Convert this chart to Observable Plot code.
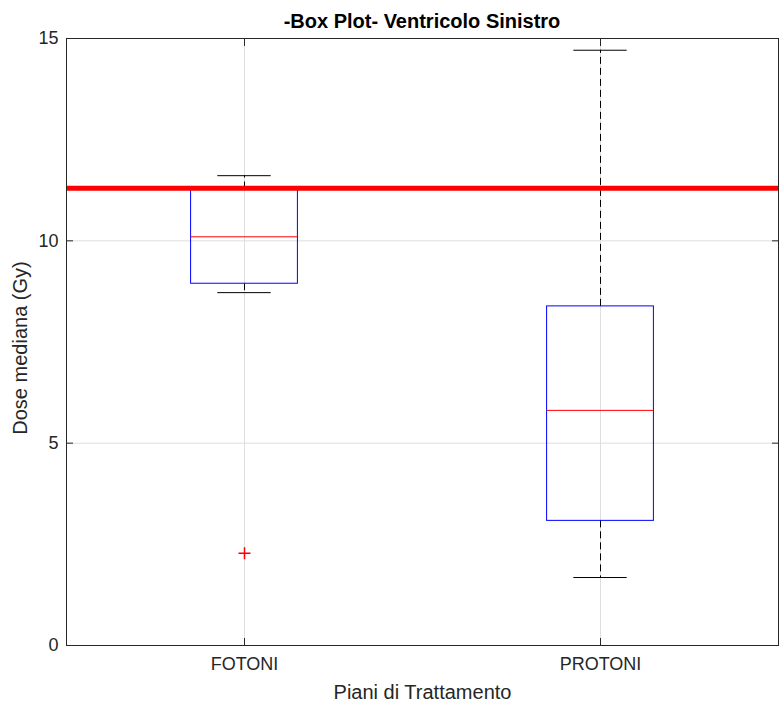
<!DOCTYPE html>
<html><head><meta charset="utf-8">
<script src="https://cdn.jsdelivr.net/npm/d3@7"></script>
<script src="https://cdn.jsdelivr.net/npm/@observablehq/plot@0.6"></script>
<style>
body{margin:0;background:#fff;}
#wrap{position:relative;width:782px;height:706px;font-family:"Liberation Sans",Arial,sans-serif;}
#title{position:absolute;left:66px;width:712px;top:9px;text-align:center;font-weight:bold;font-size:20px;color:#000;line-height:24px;}
#chart{position:absolute;left:0;top:0;}
</style></head><body>
<div id="wrap"><div id="chart"></div><div id="title">-Box Plot- Ventricolo Sinistro</div></div>
<script>
const categories = ["FOTONI", "PROTONI"];
const whiskerLow = [8.72, 1.68];
const q1 = [8.94, 3.08];
const median = [10.10, 5.81];
const q3 = [11.28, 8.38];
const whiskerHigh = [11.61, 14.71];
const outlierGroups = ["FOTONI"];
const outlierValues = [2.28];
const threshold = [11.3];
const yTicks = [0, 5, 10, 15];
const xLabel = "Piani di Trattamento";
const yLabel = "Dose mediana (Gy)";

const table = categories.map((c, i) => ({
  cat: c, pos: i + 1, lo: whiskerLow[i], q1: q1[i], med: median[i], q3: q3[i], hi: whiskerHigh[i]
}));
const outliers = outlierGroups.map((g, i) => ({pos: categories.indexOf(g) + 1, value: outlierValues[i]}));
const xTicks = categories.map((c, i) => i + 1);

const boxHalf = 0.15, capHalf = 0.075;
const plusSymbol = {
  draw(ctx, size) {
    const r = Math.sqrt(size / Math.PI);
    ctx.moveTo(-r, 0); ctx.lineTo(r, 0);
    ctx.moveTo(0, -r); ctx.lineTo(0, r);
  }
};
const axisColor = "#262626";

const chart = Plot.plot({
  width: 782, height: 706,
  marginTop: 38, marginBottom: 61, marginLeft: 66, marginRight: 4,
  style: {fontFamily: '"Liberation Sans", Arial, sans-serif', fontSize: "18px", color: axisColor, background: "#fff"},
  x: {domain: [0.5, 2.5]},
  y: {domain: [0, 15]},
  marks: [
    Plot.gridY(yTicks, {stroke: "#dedede", strokeOpacity: 1}),
    Plot.gridX(xTicks, {stroke: "#dedede", strokeOpacity: 1}),
    Plot.ruleX(table, {x: "pos", y1: "q3", y2: "hi", stroke: "#000", strokeDasharray: "7,4"}),
    Plot.ruleX(table, {x: "pos", y1: "q1", y2: "lo", stroke: "#000", strokeDasharray: "7,4"}),
    Plot.ruleY(table, {y: "hi", x1: d => d.pos - capHalf, x2: d => d.pos + capHalf, stroke: "#000"}),
    Plot.ruleY(table, {y: "lo", x1: d => d.pos - capHalf, x2: d => d.pos + capHalf, stroke: "#000"}),
    Plot.rect(table, {x1: d => d.pos - boxHalf, x2: d => d.pos + boxHalf, y1: "q1", y2: "q3", stroke: "#0000ff", fill: "none"}),
    Plot.ruleY(table, {y: "med", x1: d => d.pos - boxHalf, x2: d => d.pos + boxHalf, stroke: "#ff0000"}),
    Plot.dot(outliers, {x: "pos", y: "value", symbol: plusSymbol, r: 6, stroke: "#ff0000", fill: "none"}),
    Plot.ruleY(threshold, {stroke: "#ff0000", strokeWidth: 5}),
    Plot.frame({stroke: axisColor}),
    Plot.axisY(yTicks, {anchor: "left", tickSize: 0, tickPadding: 8, label: null, fontSize: 18}),
    Plot.axisY(yTicks, {anchor: "left", tickSize: -7, tickPadding: 0, tickFormat: () => "", label: null}),
    Plot.axisY(yTicks, {anchor: "right", tickSize: -7, tickPadding: 0, tickFormat: () => "", label: null}),
    Plot.axisX(xTicks, {anchor: "bottom", tickSize: 0, tickPadding: 12, tickFormat: d => categories[d - 1], label: null, fontSize: 18}),
    Plot.axisX(xTicks, {anchor: "bottom", tickSize: -7, tickPadding: 0, tickFormat: () => "", label: null}),
    Plot.axisX(xTicks, {anchor: "top", tickSize: -7, tickPadding: 0, tickFormat: () => "", label: null}),
    Plot.text([xLabel], {frameAnchor: "bottom", dy: 47, lineAnchor: "middle", fontSize: 20, fill: axisColor}),
    Plot.text([yLabel], {frameAnchor: "left", rotate: -90, textAnchor: "middle", dx: -46, dy: 6, lineAnchor: "middle", fontSize: 20, fill: axisColor})
  ]
});
document.getElementById("chart").appendChild(chart);
</script>
</body></html>
